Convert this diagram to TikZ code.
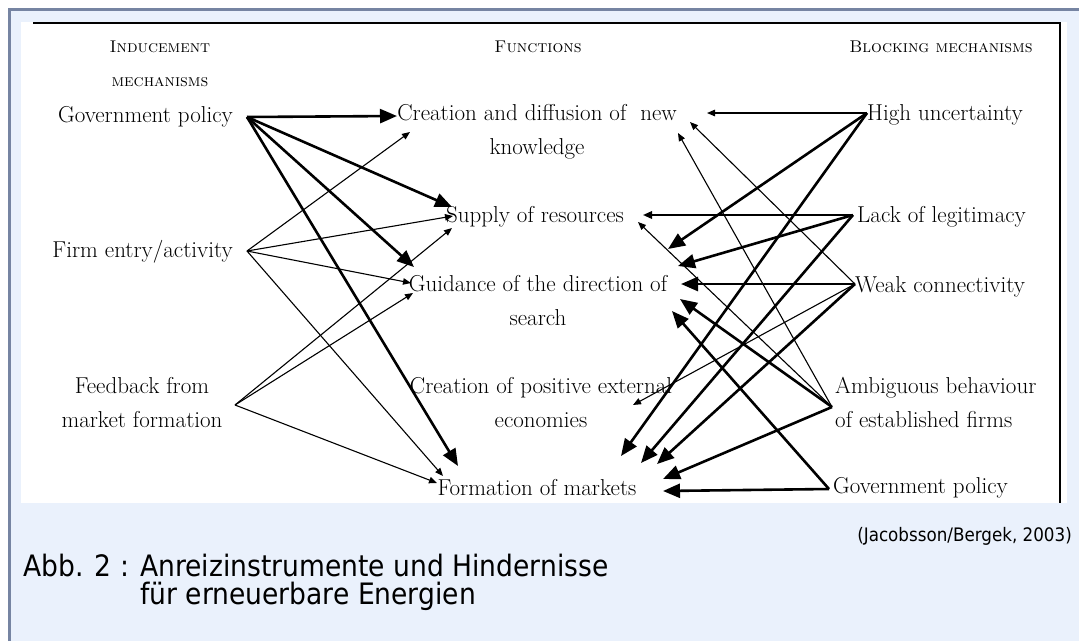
\documentclass[tikz,border=0pt]{standalone}
\usepackage{fontspec}
\newfontfamily\capfont[FakeStretch=0.9]{DejaVu Sans}
\usetikzlibrary{arrows.meta}
\definecolor{framegray}{RGB}{118,132,162}
\definecolor{paleblue}{RGB}{234,241,252}
\begin{document}
\begin{tikzpicture}[x=1pt,y=-1pt,
  lab/.style={font=\fontsize{23}{33.5}\selectfont, inner sep=0pt},
  head/.style={font=\fontsize{17}{34}\selectfont\scshape, inner sep=0pt},
  thk/.style={line width=2.6pt, -{Triangle[length=17pt,width=14pt]}},
  thn/.style={line width=1.1pt, -{Triangle[length=8pt,width=6.5pt]}},
  med/.style={line width=1.8pt, -{Triangle[length=9pt,width=7.5pt]}},
  captext/.style={font=\capfont\fontsize{29.5}{28}\selectfont, inner sep=0pt}]
\useasboundingbox (0,0) rectangle (1079,641);
\fill[white] (0,0) rectangle (1079,641);
\fill[paleblue] (9.5,9.5) rectangle (1079,641);
\draw[framegray, line width=3pt] (9.5,641) -- (9.5,9.5) -- (1079,9.5);
\fill[white] (21,22) rectangle (1067,503);
\draw[line width=2pt] (33,23) -- (1060,23);
\draw[line width=1.2pt] (1060,22) -- (1060,503);

% headings
\node[head, align=center, anchor=base] (hind) at (160,86) {\textsc{Inducement}\\\textsc{mechanisms}};
\node[head, anchor=base] (hfun) at (538,52) {\textsc{Functions}};
\node[head, anchor=base] (hblk) at (941,52) {\textsc{Blocking mechanisms}};

% left column
\node[lab, anchor=base east] (gpl) at (233,122) {Government policy};
\node[lab, anchor=base east] (fea) at (233,257) {Firm entry/activity};
\node[lab, align=center, anchor=base] (fbk) at (142,427) {Feedback from\\market formation};

% functions
\node[lab, align=center, anchor=base] (cdk) at (537,154) {Creation and diffusion of\ \ new\\knowledge};
\node[lab, anchor=base] (sor) at (535,222) {Supply of resources};
\node[lab, align=center, anchor=base] (gds) at (538,325) {Guidance of the direction of\\search};
\node[lab, align=center, anchor=base] (cpe) at (541,427) {Creation of positive external\\economies};
\node[lab, anchor=base] (fom) at (537,495) {Formation of markets};

% blocking mechanisms
\node[lab, anchor=base west] (hun) at (867,120) {High uncertainty};
\node[lab, anchor=base west] (lol) at (857,222) {Lack of legitimacy};
\node[lab, anchor=base west] (wco) at (855,292) {Weak connectivity};
\node[lab, align=left, anchor=base west] (abe) at (835,427) {Ambiguous behaviour\\of established firms};
\node[lab, anchor=base west] (gpr) at (833,493) {Government policy};

% connector ends
\coordinate (sGP) at (247,117);
\coordinate (sFE) at (247,251);
\coordinate (sFB) at (235,405);
\coordinate (tC1) at (397,116);
\coordinate (tS1) at (452,207);
\coordinate (tG1) at (414,267);
\coordinate (tF1) at (458,466);
\coordinate (tC2) at (410,132);
\coordinate (tS2) at (453,216);
\coordinate (tG2) at (411,283);
\coordinate (tF2) at (443,476);
\coordinate (tS3) at (452,228);
\coordinate (tG3) at (413,293);
\coordinate (tF3) at (437,483);

\coordinate (sHU) at (867,113);
\coordinate (sLL) at (853,215);
\coordinate (sWC) at (855,284);
\coordinate (sAB) at (832,407);
\coordinate (sGR) at (829,489);
\coordinate (rC1) at (707,113);
\coordinate (rG1) at (668,249);
\coordinate (rF1) at (621,456);
\coordinate (rS1) at (643,215);
\coordinate (rG2) at (678,266);
\coordinate (rF2) at (641,463);
\coordinate (rG3) at (681,284);
\coordinate (rC2) at (690,122);
\coordinate (rE1) at (633,405);
\coordinate (rF3) at (657,464);
\coordinate (rC3) at (678,133);
\coordinate (rS2) at (638,222);
\coordinate (rG4) at (680,299);
\coordinate (rF4) at (663,479);
\coordinate (rG5) at (672,311);
\coordinate (rF5) at (663,491);

% inducement -> functions
\draw[thk] (sGP) -- (tC1);
\draw[thk] (sGP) -- (tS1);
\draw[thk] (sGP) -- (tG1);
\draw[thk] (sGP) -- (tF1);
\draw[thn] (sFE) -- (tC2);
\draw[thn] (sFE) -- (tS2);
\draw[thn] (sFE) -- (tG2);
\draw[thn] (sFE) -- (tF2);
\draw[thn] (sFB) -- (tS3);
\draw[thn] (sFB) -- (tG3);
\draw[thn] (sFB) -- (tF3);

% blocking -> functions
\draw[thn] (sHU) -- (rC1);
\draw[thk] (sHU) -- (rG1);
\draw[thk] (sHU) -- (rF1);
\draw[med] (sLL) -- (rS1);
\draw[thk] (sLL) -- (rG2);
\draw[thk] (sLL) -- (rF2);
\draw[thk] (sWC) -- (rG3);
\draw[thn] (sWC) -- (rC2);
\draw[thn] (sWC) -- (rE1);
\draw[thk] (sWC) -- (rF3);
\draw[thn] (sAB) -- (rC3);
\draw[thn] (sAB) -- (rS2);
\draw[thk] (sAB) -- (rG4);
\draw[thk] (sAB) -- (rF4);
\draw[thk] (sGR) -- (rG5);
\draw[thk] (sGR) -- (rF5);

% caption
\node[font=\capfont\fontsize{18.6}{20}\selectfont, inner sep=0pt, anchor=base east] (src) at (1072,541) {(Jacobsson/Bergek, 2003)};
\node[captext, align=left, anchor=base west] (cpt) at (23,604) {Abb. 2 : Anreizinstrumente und Hindernisse\\\hphantom{Abb. 2 : }für erneuerbare Energien};
\end{tikzpicture}
\end{document}
